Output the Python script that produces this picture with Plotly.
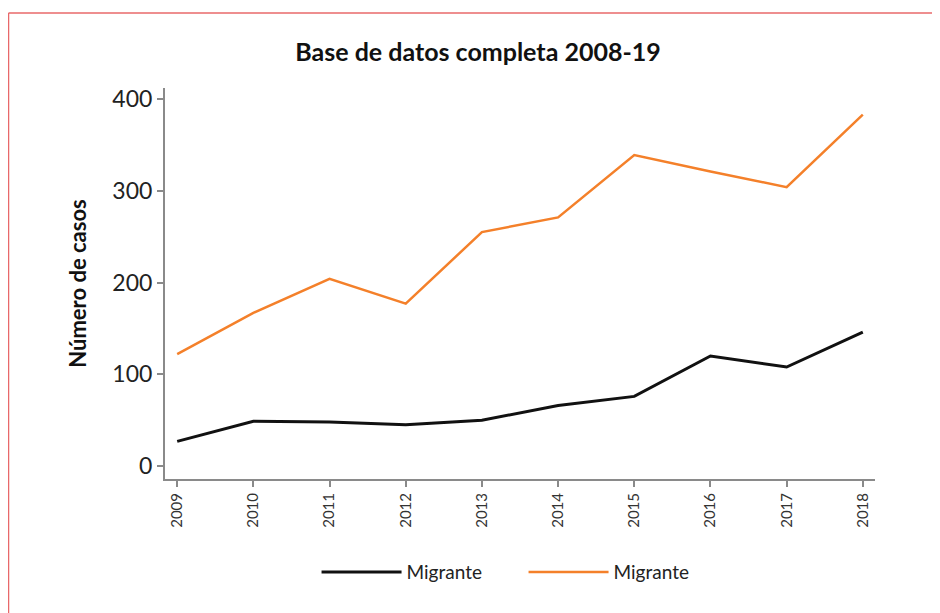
import plotly.graph_objects as go

years = [2009, 2010, 2011, 2012, 2013, 2014, 2015, 2016, 2017, 2018]
migrante_negro = [27, 49, 48, 45, 50, 66, 76, 120, 108, 146]
migrante_naranja = [122, 167, 204, 177, 255, 271, 339, 321, 304, 383]

fig = go.Figure()

fig.add_trace(go.Scatter(
    x=years, y=migrante_negro, mode='lines', name='Migrante',
    line=dict(color='#111111', width=3)
))
fig.add_trace(go.Scatter(
    x=years, y=migrante_naranja, mode='lines', name='Migrante',
    line=dict(color='#f4802a', width=2.5)
))

fig.update_layout(
    width=940, height=613,
    margin=dict(l=157, r=73, t=80, b=142),
    paper_bgcolor='white',
    plot_bgcolor='white',
    font=dict(family='Lato', color='#222222'),
    title=dict(
        text='<b>Base de datos completa 2008-19</b>',
        x=0.5, xanchor='center', y=0.927, yanchor='middle',
        font=dict(size=25, color='#111111')
    ),
    xaxis=dict(
        range=[2008.84, 2018.16],
        tickvals=years,
        ticktext=[str(y) for y in years],
        tickangle=-90,
        tickfont=dict(size=15, color='#333333'),
        showgrid=False, zeroline=False,
        showline=True, linecolor='#8a8a8a', linewidth=2,
        ticks='outside', ticklen=6, tickcolor='#8a8a8a', tickwidth=2,
    ),
    yaxis=dict(
        range=[-14, 412],
        tickvals=[0, 100, 200, 300, 400],
        tickfont=dict(size=23, color='#222222'),
        showgrid=False, zeroline=False,
        showline=True, linecolor='#8a8a8a', linewidth=2,
        ticks='outside', ticklen=6, tickcolor='#8a8a8a', tickwidth=2,
        title=dict(text='<b>Número de casos</b>', font=dict(size=22, color='#111111'), standoff=20),
    ),
    legend=dict(
        orientation='h',
        x=0.505, xanchor='center',
        y=-0.238, yanchor='middle',
        font=dict(size=19, color='#222222'),
        itemwidth=80,
        entrywidth=112,
        bgcolor='rgba(0,0,0,0)',
    ),
    showlegend=True,
)

# marco rojo alrededor del gráfico
borde = dict(type='line', xref='paper', yref='paper',
             line=dict(color='#e8686a', width=1.5))
fig.add_shape(x0=-0.2204, x1=1.0887, y0=1.192, y1=1.192, **borde)
fig.add_shape(x0=-0.2204, x1=-0.2204, y0=1.192, y1=-0.4, **borde)
fig.add_shape(x0=1.0887, x1=1.0887, y0=1.192, y1=-0.4, **borde)

fig.write_html("out.html")
